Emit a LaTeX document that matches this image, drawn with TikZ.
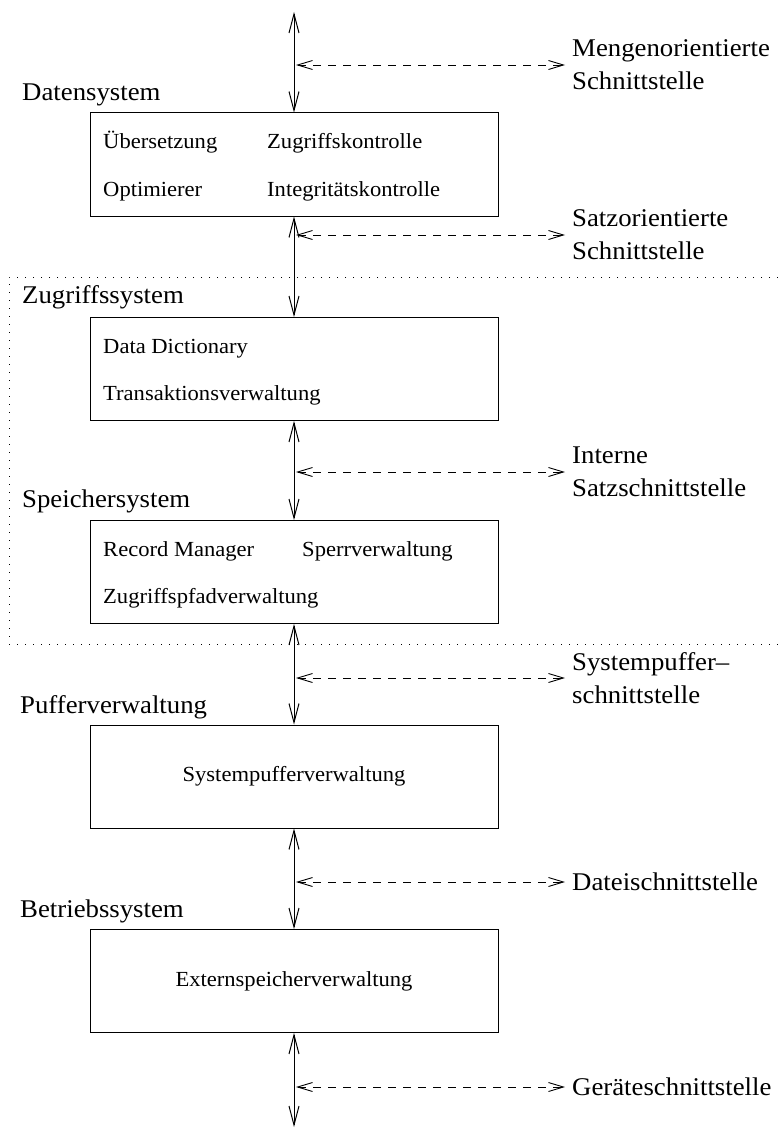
\documentclass[tikz,border=0pt]{standalone}
\usepackage{fontspec}
\setmainfont{Liberation Serif}[FakeStretch=1.05]
\usetikzlibrary{arrows.meta}
\begin{document}
\begin{tikzpicture}[x=1pt, y=-1pt,
  layer/.style={draw, line width=1pt, minimum width=408pt, minimum height=103pt, inner sep=0pt},
  iface/.style={line width=1pt, {Straight Barb[length=19pt,width=10pt]}-{Straight Barb[length=19pt,width=10pt]}},
  call/.style={line width=0.9pt, dash pattern=on 8pt off 7pt, {Straight Barb[length=15pt,width=9pt]}-{Straight Barb[length=15pt,width=9pt]}},
  title/.style={anchor=base west, inner sep=0pt, font=\fontsize{25.5}{33}\selectfont},
  ilabel/.style={anchor=west, inner xsep=7pt, inner ysep=0pt, align=left, font=\fontsize{25.5}{33}\selectfont},
  entry/.style={anchor=base west, inner sep=0pt, font=\fontsize{21.5}{26}\selectfont},
  central/.style={inner sep=0pt, font=\fontsize{21.5}{26}\selectfont},
  frame/.style={line width=1pt, dash pattern=on 1pt off 7pt}
]
\useasboundingbox (0,0) rectangle (778,1129);

% subsystem boundary of the access and storage layers
\draw[frame] (778,277) -- (9,277) -- (9,644) -- (778,644);

% layer boxes
\node[layer] (b1) at (294,164.5) {};
\node[layer] (b2) at (294,369) {};
\node[layer] (b3) at (294,572) {};
\node[layer] (b4) at (294,776.5) {};
\node[layer] (b5) at (294,981) {};

% layer titles
\node[title] (t1) at (22,101) {Datensystem};
\node[title] (t2) at (22,303) {Zugriffssystem};
\node[title] (t3) at (22,507) {Speichersystem};
\node[title] (t4) at (20,713) {Pufferverwaltung};
\node[title] (t5) at (20,917) {Betriebssystem};

% components of each layer
\node[entry] (e11) at (103,148) {Übersetzung};
\node[entry] (e12) at (267,148) {Zugriffskontrolle};
\node[entry] (e13) at (103,196) {Optimierer};
\node[entry] (e14) at (267,196) {Integritätskontrolle};
\node[entry] (e21) at (103,353) {Data Dictionary};
\node[entry] (e22) at (103,400) {Transaktionsverwaltung};
\node[entry] (e31) at (103,556) {Record Manager};
\node[entry] (e32) at (302,556) {Sperrverwaltung};
\node[entry] (e33) at (103,603) {Zugriffspfadverwaltung};
\node[central] (e41) at (b4) {Systempufferverwaltung};
\node[central] (e51) at (b5) {Externspeicherverwaltung};

% interface labels
\node[ilabel] (i1) at (565,65) {Mengenorientierte\\Schnittstelle};
\node[ilabel] (i2) at (565,235) {Satzorientierte\\Schnittstelle};
\node[ilabel] (i3) at (565,472) {Interne\\Satzschnittstelle};
\node[ilabel] (i4) at (565,678) {Systempuffer–\\schnittstelle};
\node[ilabel] (i5) at (565,882) {Dateischnittstelle};
\node[ilabel] (i6) at (565,1087) {Geräteschnittstelle};

% free ends of the outer vertical connectors
\coordinate (top) at (294,12);
\coordinate (bottom) at (294,1127);

% vertical interfaces between the layers
\draw[iface] (top) -- (b1.north);
\draw[iface] (b1.south) -- (b2.north);
\draw[iface] (b2.south) -- (b3.north);
\draw[iface] (b3.south) -- (b4.north);
\draw[iface] (b4.south) -- (b5.north);
\draw[iface] (b5.south) -- (bottom);

% points where the interface pointers touch the vertical line
\coordinate (m1) at (296,65);
\coordinate (m2) at (296,235);
\coordinate (m3) at (296,472);
\coordinate (m4) at (296,678);
\coordinate (m5) at (296,882);
\coordinate (m6) at (296,1087);

\draw[call] (m1) -- (i1.west);
\draw[call] (m2) -- (i2.west);
\draw[call] (m3) -- (i3.west);
\draw[call] (m4) -- (i4.west);
\draw[call] (m5) -- (i5.west);
\draw[call] (m6) -- (i6.west);
\end{tikzpicture}
\end{document}
